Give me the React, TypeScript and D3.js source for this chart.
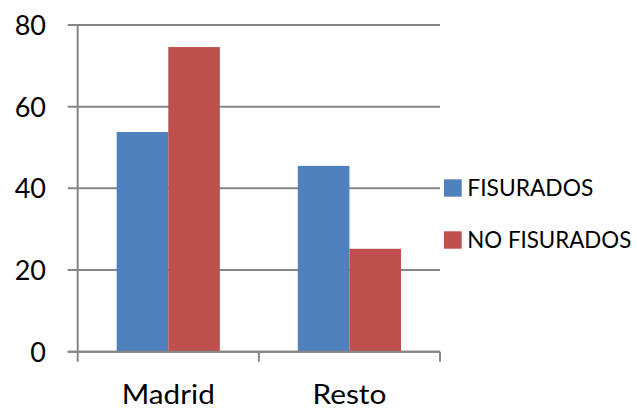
import React from "react";
import * as d3 from "d3";

const categories = ["Madrid", "Resto"];
const categoryWidths = [93, 74];
const seriesNames = ["FISURADOS", "NO FISURADOS"];
const legendWidths = [126, 164];
const fisurados = [53.8, 45.5];
const noFisurados = [74.6, 25.2];
const yTicks = [0, 20, 40, 60, 80];
const colors = ["#4F81BD", "#C0504D"];

const W = 637;
const H = 409;
const left = 77.7;
const right = 440;
const top = 25;
const bottom = 351.7;
const font = "Lato, 'Open Sans', sans-serif";

export default function App() {
  const x = d3.scaleBand().domain(categories).range([left, right]).paddingInner(0).paddingOuter(0);
  const x1 = d3.scaleBand().domain(seriesNames).range([0, x.bandwidth()]).paddingInner(0).paddingOuter(0.755);
  const y = d3.scaleLinear().domain([0, 80]).range([bottom, top]);
  const values = [fisurados, noFisurados];
  const boundaries = [left, ...categories.map((c) => (x(c) as number) + x.bandwidth())];
  return (
    <svg width={W} height={H} style={{ position: "absolute", left: 0, top: 0, background: "#fff" }}>
      {yTicks.map((t) => (
        <g key={t}>
          <line x1={left - 10} x2={right} y1={y(t)} y2={y(t)} stroke="#868686" strokeWidth={2} />
          <text x={46} y={y(t) + 3} textAnchor="end" dominantBaseline="middle" fontFamily={font} fontSize={27} fill="#000">
            {t}
          </text>
        </g>
      ))}
      <line x1={left} x2={left} y1={top} y2={bottom + 10} stroke="#868686" strokeWidth={2} />
      {boundaries.slice(1).map((b, i) => (
        <line key={i} x1={b} x2={b} y1={bottom} y2={bottom + 10} stroke="#868686" strokeWidth={2} />
      ))}
      {categories.map((c, ci) =>
        seriesNames.map((s, si) => (
          <rect
            key={c + s}
            x={(x(c) as number) + (x1(s) as number)}
            y={y(values[si][ci])}
            width={x1.bandwidth()}
            height={bottom - y(values[si][ci])}
            fill={colors[si]}
          />
        ))
      )}
      <line x1={left - 10} x2={right} y1={bottom} y2={bottom} stroke="#868686" strokeWidth={2} />
      {categories.map((c, i) => (
        <text
          key={c}
          x={(x(c) as number) + x.bandwidth() / 2}
          y={403.5}
          textAnchor="middle"
          fontFamily={font}
          fontSize={27}
          fill="#000"
          textLength={categoryWidths[i]}
          lengthAdjust="spacingAndGlyphs"
        >
          {c}
        </text>
      ))}
      {seriesNames.map((s, i) => (
        <g key={s}>
          <rect x={444} y={179.3 + i * 52} width={17.7} height={17.4} fill={colors[i]} />
          <text
            x={467.3}
            y={195.5 + i * 52}
            fontFamily={font}
            fontSize={23}
            fill="#000"
            textLength={legendWidths[i]}
            lengthAdjust="spacingAndGlyphs"
          >
            {s}
          </text>
        </g>
      ))}
    </svg>
  );
}
